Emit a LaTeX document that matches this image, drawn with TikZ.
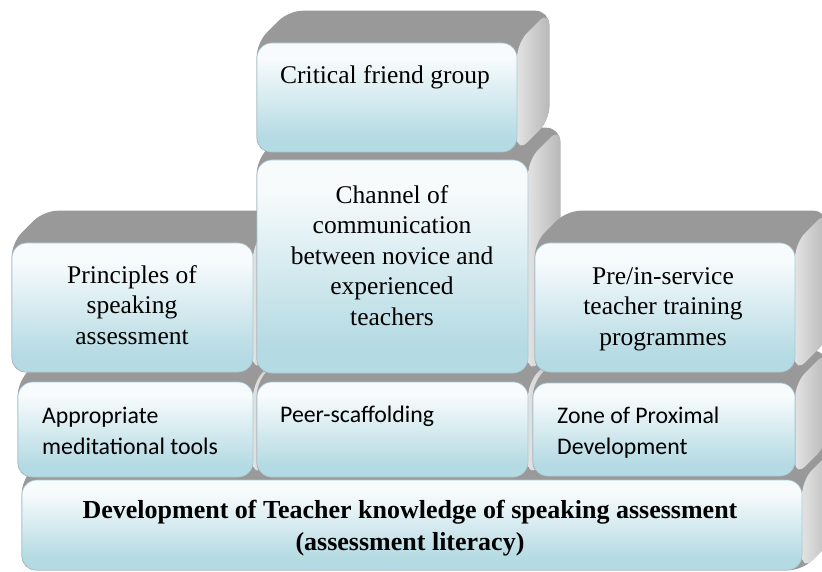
\documentclass[tikz,border=0pt]{standalone}
\usepackage{fontspec}
\usetikzlibrary{calc, backgrounds}

\newfontfamily\serifface{Liberation Serif}
\newfontfamily\sansface{Carlito}

\definecolor{faceTop}{HTML}{F7FBFC}
\definecolor{faceBot}{HTML}{B4DAE3}
\definecolor{faceEdge}{HTML}{A6CAD4}
\definecolor{topGrey}{HTML}{999999}
\definecolor{sideLight}{HTML}{E2E2E2}
\definecolor{sideDark}{HTML}{B8B8B8}

\pgfdeclareverticalshading{faceshade}{100bp}{color(0bp)=(faceBot); color(31bp)=(faceBot);
    color(68bp)=(faceTop); color(100bp)=(faceTop)}

% depth of the 3D slab behind each face
\newcommand{\slabdepth}{32}
\newcommand{\slab}[1]{%
  \fill[topface] (#1.south west) -- (#1.north west)
      -- ($(#1.north west)+(\slabdepth,-\slabdepth)$) -- ($(#1.north east)+(\slabdepth,-\slabdepth)$)
      -- ($(#1.south east)+(\slabdepth,-\slabdepth)$) -- (#1.south east) -- cycle;
  \shade[sideface] (#1.north east) -- ($(#1.north east)+(\slabdepth,-\slabdepth)$)
      -- ($(#1.south east)+(\slabdepth,-\slabdepth)$) -- (#1.south east) -- cycle;
}

\begin{document}
\begin{tikzpicture}[
    x=1pt, y=-1pt,
    face/.style={draw=faceEdge, line width=0.6pt, rounded corners=15pt, shading=faceshade,
                 inner sep=0pt},
    topface/.style={fill=topGrey, rounded corners=14pt},
    sideface/.style={left color=sideLight, right color=sideDark, rounded corners=14pt},
    serif/.style={font=\serifface\fontsize{25.5}{30.5}\selectfont, align=center, inner sep=0pt},
    sans/.style={font=\sansface\fontsize{23.8}{31}\selectfont, align=left, inner sep=0pt},
    strong/.style={font=\serifface\bfseries\fontsize{26}{31.7}\selectfont, align=center,
                   inner sep=0pt}
]
\useasboundingbox (0,0) rectangle (822,572);

% ================= Bottom block =================
\node[face, minimum width=780, minimum height=90] (literacy) at (412,525) {};
\node[strong, anchor=base] (literacy-txt) at (410,550)
    {Development of Teacher knowledge of speaking assessment\\(assessment literacy)};

% ================= Second row =================
\node[face, minimum width=235, minimum height=95] (tools) at (135.5,429.5) {};
\node[face, minimum width=271, minimum height=95] (peer) at (392.5,429.5) {};
\node[face, minimum width=262, minimum height=93] (zpd) at (664,429.5) {};

\node[sans, anchor=base west] (tools-txt) at (42,454) {Appropriate\\meditational tools};
\node[sans, anchor=base west] (peer-txt) at (280,422) {Peer-scaffolding};
\node[sans, anchor=base west] (zpd-txt) at (557,454) {Zone of Proximal\\Development};

% ================= Third row =================
\node[face, minimum width=241, minimum height=129] (principles) at (132.5,307.5) {};
\node[face, minimum width=271, minimum height=213] (channel) at (392.5,266.5) {};
\node[face, minimum width=260, minimum height=129] (preservice) at (665,307.5) {};

\node[serif, anchor=base] (principles-txt) at (132,344) {Principles of\\speaking\\assessment};
\node[serif, anchor=base] (channel-txt) at (392,325)
    {Channel of\\communication\\between novice and\\experienced\\teachers};
\node[serif, anchor=base] (preservice-txt) at (663,345)
    {Pre/in-service\\teacher training\\programmes};

% ================= Top block =================
\node[face, minimum width=260, minimum height=109] (critical) at (387,97.5) {};
\node[serif, anchor=base] (critical-txt) at (385,84) {Critical friend group};

% 3D slabs behind the faces
\begin{scope}[on background layer]
\fill[white] (0,0) rectangle (822,572);
\slab{literacy}
\slab{tools}
\slab{peer}
\slab{zpd}
\slab{principles}
\slab{channel}
\slab{preservice}
\slab{critical}
\end{scope}

\end{tikzpicture}
\end{document}
